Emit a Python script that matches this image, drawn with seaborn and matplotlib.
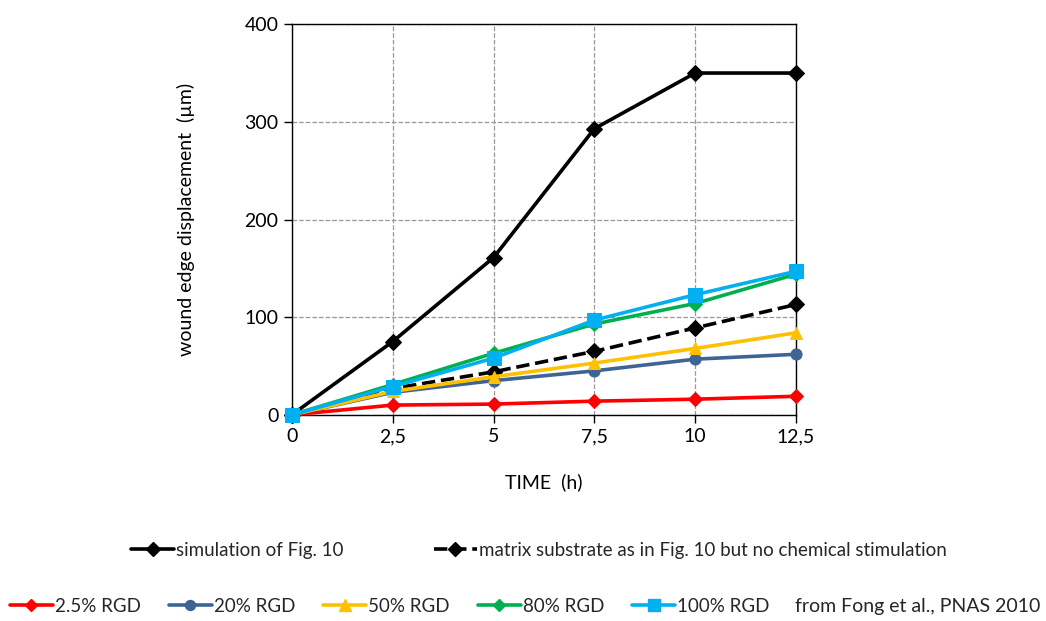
import matplotlib
matplotlib.use("Agg")
import matplotlib.pyplot as plt
import pandas as pd
import seaborn as sns
from matplotlib.lines import Line2D

# time points (h)
time_h = [0, 2.5, 5, 7.5, 10, 12.5]
x_tick_labels = ["0", "2,5", "5", "7,5", "10", "12,5"]
y_ticks = [0, 100, 200, 300, 400]

# wound edge displacement (um)
sim_fig10 = [0, 75, 161, 293, 350, 350]
no_chem = [0, 27, 44, 65, 89, 113]
rgd_2_5 = [0, 10, 11, 14, 16, 19]
rgd_20 = [0, 23, 35, 45, 57, 62]
rgd_50 = [0, 24, 39, 53, 68, 84]
rgd_80 = [0, 31, 63, 93, 114, 144]
rgd_100 = [0, 29, 58, 97, 123, 147]

sns.set_theme(style="white")
plt.rcParams["font.family"] = ["Lato", "DejaVu Sans"]

fig = plt.figure(figsize=(10.46, 6.21), dpi=100)
ax = fig.add_axes([0.279, 0.332, 0.482, 0.629])

series = [
    ("simulation of Fig. 10", sim_fig10, "black", "D", "-", 8),
    ("matrix substrate as in Fig. 10 but no chemical stimulation", no_chem, "black", "D", "--", 8),
    ("2.5% RGD", rgd_2_5, "#ff0000", "D", "-", 7),
    ("20% RGD", rgd_20, "#3e6496", "o", "-", 8),
    ("50% RGD", rgd_50, "#ffc000", "^", "-", 9),
    ("80% RGD", rgd_80, "#00b050", "D", "-", 7),
    ("100% RGD", rgd_100, "#00b0f0", "s", "-", 10),
]

handles = {}
for name, vals, color, marker, ls, ms in series:
    df = pd.DataFrame({"t": time_h, "d": vals})
    sns.lineplot(data=df, x="t", y="d", ax=ax, color=color, marker=marker,
                 linestyle=ls, linewidth=2.6, markersize=ms,
                 markeredgecolor=color, errorbar=None, clip_on=False, zorder=3)
    handles[name] = Line2D([], [], color=color, marker=marker, linestyle=ls,
                           linewidth=2.6, markersize=ms * 0.9, markeredgecolor=color)

ax.set_xlim(0, 12.5)
ax.set_ylim(0, 400)
ax.set_xticks(time_h)
ax.set_xticklabels(x_tick_labels)
ax.set_yticks(y_ticks)
ax.grid(True, color="#999999", linestyle="--", linewidth=0.9)
for sp in ax.spines.values():
    sp.set_color("black")
    sp.set_linewidth(1.0)
ax.tick_params(axis="both", which="major", direction="out", length=6, width=1,
               color="black", labelsize=14, labelcolor="black", bottom=True, left=True)
ax.set_xlabel("TIME  (h)", fontsize=14, color="black", labelpad=20)
ax.set_ylabel("wound edge displacement  (µm)", fontsize=14, color="black", labelpad=36)

row1 = ["simulation of Fig. 10", "matrix substrate as in Fig. 10 but no chemical stimulation"]
fig.legend([handles[n] for n in row1], row1, loc="center", bbox_to_anchor=(0.515, 0.114),
           ncol=2, frameon=False, fontsize=13.5, handlelength=2.3, handletextpad=0.1,
           columnspacing=4.8)

row2 = ["2.5% RGD", "20% RGD", "50% RGD", "80% RGD", "100% RGD"]
fig.legend([handles[n] for n in row2], row2, loc="center left", bbox_to_anchor=(-0.007, 0.024),
           ncol=5, frameon=False, fontsize=13.5, handlelength=2.3, handletextpad=0.1,
           columnspacing=1.5)
fig.text(0.760, 0.024, "from Fong et al., PNAS 2010", fontsize=14, va="center", ha="left")

fig.savefig("out.png", dpi=100)
